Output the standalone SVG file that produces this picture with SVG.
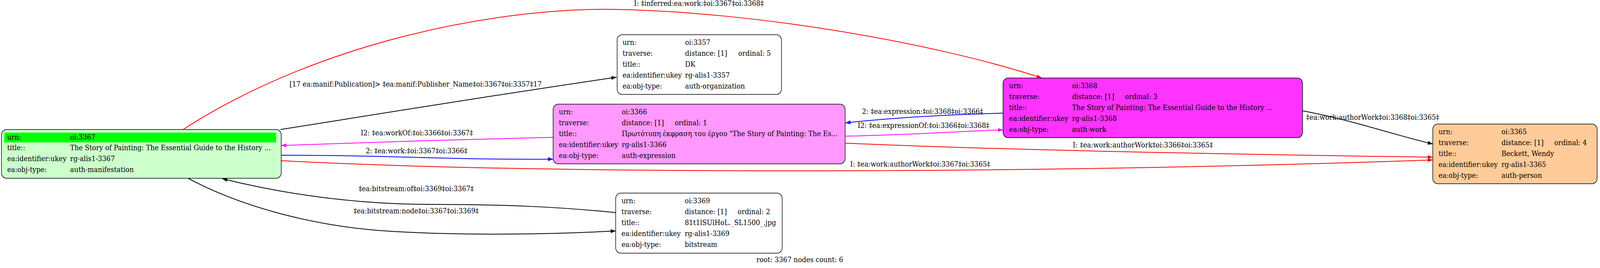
<svg xmlns="http://www.w3.org/2000/svg" width="4449" height="687" viewBox="0 0 4449 687">
<style>
text{font-family:"DejaVu Serif","Liberation Serif",serif;font-size:18.5px;fill:#000}
.box{stroke:#000;stroke-width:1.5}
.e{fill:none;stroke-width:2}
.k{stroke:#000}.r{stroke:#ff0000}.b{stroke:#0000ff}.m{stroke:#ff00ff}
</style>
<defs>
<marker id="ak" viewBox="0 0 14 10" refX="14" refY="5" markerWidth="14" markerHeight="10" markerUnits="userSpaceOnUse" orient="auto"><path d="M0,0L14,5L0,10z" fill="#000"/></marker>
<marker id="ar" viewBox="0 0 14 10" refX="14" refY="5" markerWidth="14" markerHeight="10" markerUnits="userSpaceOnUse" orient="auto"><path d="M0,0L14,5L0,10z" fill="#ff0000"/></marker>
<marker id="ab" viewBox="0 0 14 10" refX="14" refY="5" markerWidth="14" markerHeight="10" markerUnits="userSpaceOnUse" orient="auto"><path d="M0,0L14,5L0,10z" fill="#0000ff"/></marker>
<marker id="am" viewBox="0 0 14 10" refX="14" refY="5" markerWidth="14" markerHeight="10" markerUnits="userSpaceOnUse" orient="auto"><path d="M0,0L14,5L0,10z" fill="#ff00ff"/></marker>
</defs>
<rect width="4449" height="687" fill="#fff"/>
<g transform="scale(0.92066 1)">
<g id="connectors">
<path class="e k" d="M780,332 C1000,300 1400,240 1714,198" marker-end="url(#ak)"/>
<text x="805" y="222">[17 ea:manif:Publication]&gt; ‡ea:manif:Publisher_Name‡oi:3367‡oi:3357‡17</text>
<path class="e r" d="M509,332 C900,100 1400,20 1705,24 C2100,30 2600,110 2897,200" marker-end="url(#ar)"/>
<text x="1763" y="15">I: ‡inferred:ea:work:‡oi:3367‡oi:3368‡</text>
<path class="e m" d="M1538,352 C1300,357 1000,365 782,373" marker-end="url(#am)"/>
<text x="1003" y="347">I2: ‡ea:workOf:‡oi:3366‡oi:3367‡</text>
<path class="e b" d="M782,398 C1100,398 1250,410 1538,408" marker-end="url(#ab)"/>
<text x="1017" y="393">2: ‡ea:work:‡oi:3367‡oi:3366‡</text>
<path class="e r" d="M782,412 C1500,446 2800,448 3984,410" marker-end="url(#ar)"/>
<text x="2364" y="427">I: ‡ea:work:authorWork‡oi:3367‡oi:3365‡</text>
<path class="e m" d="M2351,349 C2550,345 2700,335 2789,333" marker-end="url(#am)"/>
<text x="2385" y="328">I2: ‡ea:expressionOf:‡oi:3366‡oi:3368‡</text>
<path class="e b" d="M2789,290 C2600,295 2450,305 2351,315" marker-end="url(#ab)"/>
<text x="2397" y="292">2: ‡ea:expression:‡oi:3368‡oi:3366‡</text>
<path class="e r" d="M2351,367 C2800,385 3400,395 3984,403" marker-end="url(#ar)"/>
<text x="2983" y="378">I: ‡ea:work:authorWork‡oi:3366‡oi:3365‡</text>
<path class="e k" d="M3622,284 C3780,312 3870,345 3984,369" marker-end="url(#ak)"/>
<text x="3632" y="307">‡ea:work:authorWork‡oi:3368‡oi:3365‡</text>
<path class="e k" d="M1712,545 C1550,530 1400,524 1200,524 C1000,524 800,500 618,458" marker-end="url(#ak)"/>
<text x="997" y="490">‡ea:bitstream:of‡oi:3369‡oi:3367‡</text>
<path class="e k" d="M523,457 C650,520 850,580 1089,593 C1300,605 1550,600 1712,592" marker-end="url(#ak)"/>
<text x="983" y="547">‡ea:bitstream:node‡oi:3367‡oi:3369‡</text>
</g>
<g id="n3367">
<rect class="box" x="4" y="332" width="778" height="125" rx="14" fill="#ccffcc"/>
<rect x="12" y="340" width="756" height="25" fill="#00ff00"/>
<text x="20" y="358">urn:</text><text x="195" y="358">oi:3367</text>
<text x="20" y="385">title::</text><text x="195" y="385">The Story of Painting: The Essential Guide to the History ...</text>
<text x="20" y="413">ea:identifier:ukey</text><text x="195" y="413">rg-alis1-3367</text>
<text x="20" y="441">ea:obj-type:</text><text x="195" y="441">auth-manifestation</text>
</g>
<g id="n3357">
<rect class="box" x="1716" y="89" width="457" height="153" rx="14" fill="#fff"/>
<text x="1731" y="115">urn:</text><text x="1905" y="115">oi:3357</text>
<text x="1731" y="143">traverse:</text><text x="1905" y="143">distance: [1]</text><text x="2053" y="143">ordinal: 5</text>
<text x="1731" y="171">title::</text><text x="1905" y="171">DK</text>
<text x="1731" y="199">ea:identifier:ukey</text><text x="1905" y="199">rg-alis1-3357</text>
<text x="1731" y="227">ea:obj-type:</text><text x="1905" y="227">auth-organization</text>
</g>
<g id="n3366">
<rect class="box" x="1538" y="267" width="812" height="153" rx="14" fill="#ff99ff"/>
<text x="1554" y="293">urn:</text><text x="1729" y="293">oi:3366</text>
<text x="1554" y="321">traverse:</text><text x="1729" y="321">distance: [1]</text><text x="1876" y="321">ordinal: 1</text>
<text x="1554" y="349">title::</text><text x="1729" y="349">Πρωτότυπη έκφραση του έργου "The Story of Painting: The Es...</text>
<text x="1554" y="377">ea:identifier:ukey</text><text x="1729" y="377">rg-alis1-3366</text>
<text x="1554" y="405">ea:obj-type:</text><text x="1729" y="405">auth-expression</text>
</g>
<g id="n3368">
<rect class="box" x="2789" y="200" width="833" height="153" rx="14" fill="#ff33ff"/>
<text x="2806" y="226">urn:</text><text x="2981" y="226">oi:3368</text>
<text x="2806" y="254">traverse:</text><text x="2981" y="254">distance: [1]</text><text x="3128" y="254">ordinal: 3</text>
<text x="2806" y="282">title::</text><text x="2981" y="282">The Story of Painting: The Essential Guide to the History ...</text>
<text x="2806" y="310">ea:identifier:ukey</text><text x="2981" y="310">rg-alis1-3368</text>
<text x="2806" y="338">ea:obj-type:</text><text x="2981" y="338">auth-work</text>
</g>
<g id="n3365">
<rect class="box" x="3984" y="318" width="457" height="153" rx="14" fill="#ffcc99"/>
<text x="4000" y="344">urn:</text><text x="4175" y="344">oi:3365</text>
<text x="4000" y="372">traverse:</text><text x="4175" y="372">distance: [1]</text><text x="4322" y="372">ordinal: 4</text>
<text x="4000" y="400">title::</text><text x="4175" y="400">Beckett, Wendy</text>
<text x="4000" y="428">ea:identifier:ukey</text><text x="4175" y="428">rg-alis1-3365</text>
<text x="4000" y="456">ea:obj-type:</text><text x="4175" y="456">auth-person</text>
</g>
<g id="n3369">
<rect class="box" x="1712" y="495" width="463" height="154" rx="14" fill="#fff"/>
<text x="1728" y="521">urn:</text><text x="1904" y="521">oi:3369</text>
<text x="1728" y="549">traverse:</text><text x="1904" y="549">distance: [1]</text><text x="2051" y="549">ordinal: 2</text>
<text x="1728" y="577">title::</text><text x="1904" y="577">81t1lSUlHoL._SL1500_.jpg</text>
<text x="1728" y="605">ea:identifier:ukey</text><text x="1904" y="605">rg-alis1-3369</text>
<text x="1728" y="633">ea:obj-type:</text><text x="1904" y="633">bitstream</text>
</g>
<text x="2224" y="672" text-anchor="middle">root: 3367 nodes count: 6</text>
</g>
</svg>
